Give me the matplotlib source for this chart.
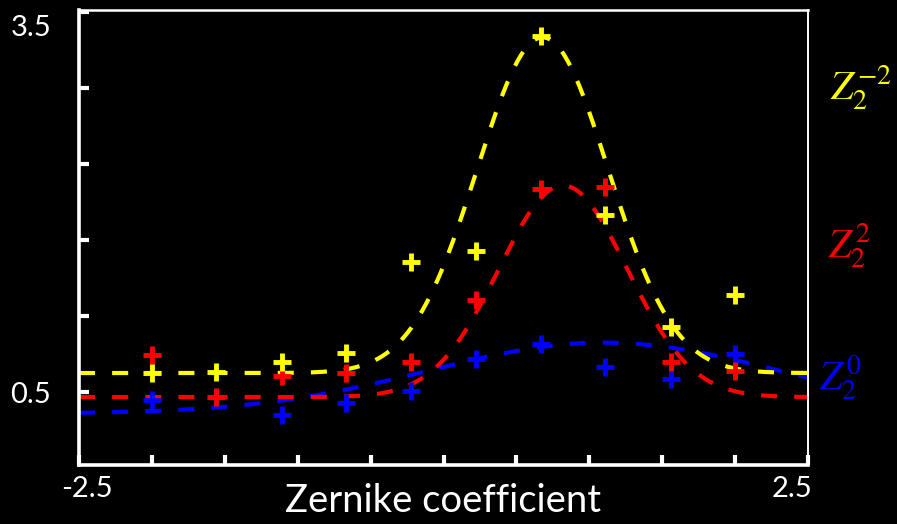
import numpy as np
import matplotlib
matplotlib.use("Agg")
import matplotlib.pyplot as plt
from matplotlib.transforms import ScaledTranslation

# Measured coefficients (x) and response of each aberration mode
coeff = [-2.0, -1.56, -1.11, -0.67, -0.22, 0.22, 0.67, 1.11, 1.56, 2.0]
z2m2 = [0.65, 0.66, 0.74, 0.81, 1.53, 1.61, 3.31, 1.90, 1.01, 1.27]
z2p2 = [0.79, 0.46, 0.63, 0.65, 0.74, 1.23, 2.10, 2.12, 0.74, 0.67]
z20 = [0.44, 0.46, 0.32, 0.41, 0.51, 0.76, 0.88, 0.70, 0.60, 0.80]

# Gaussian fit parameters: (baseline, amplitude, centre, width)
fit_z2m2 = (0.65, 2.65, 0.68, 0.45)
fit_z2p2 = (0.46, 1.67, 0.82, 0.44)
fit_z20 = (0.33, 0.56, 1.10, 1.20)

x_limits = (-2.5, 2.5)
x_ticks = [-2.5, -2.0, -1.5, -1.0, -0.5, 0.0, 0.5, 1.0, 1.5, 2.0, 2.5]
x_ticklabels = ["-2.5", "", "", "", "", "", "", "", "", "", "2.5"]
y_ticks = [0.5, 1.1, 1.7, 2.3, 2.9, 3.5]
y_ticklabels = ["0.5", "", "", "", "", "3.5"]

YELLOW, RED, BLUE = "#FFFF00", "#FF0000", "#0000FF"


def gauss(x, p):
    b, a, mu, s = p
    return b + a * np.exp(-((x - mu) ** 2) / (2 * s ** 2))


W, H, DPI = 897, 524, 100
fig = plt.figure(figsize=(W / DPI, H / DPI), dpi=DPI, facecolor="black")
ax = fig.add_axes([79 / W, 1 - 465 / H, (808 - 79) / W, (465 - 10) / H])
ax.set_facecolor("black")

xs = np.linspace(x_limits[0], x_limits[1], 400)
dash = (0, (3.85, 4.1))
lw = 3.0
for p, c in [(fit_z20, BLUE), (fit_z2p2, RED), (fit_z2m2, YELLOW)]:
    ax.plot(xs, gauss(xs, p), color=c, lw=lw, linestyle=dash, zorder=2)

for vals, c in [(z20, BLUE), (z2p2, RED), (z2m2, YELLOW)]:
    ax.plot(coeff, vals, linestyle="none", marker="+", markersize=12.5,
            markeredgewidth=3.5, color=c, zorder=3)

ax.set_xlim(*x_limits)
ax.set_ylim(-0.076, 3.516)

for side, w in [("left", 2.6), ("bottom", 2.6), ("top", 1.8), ("right", 1.4)]:
    ax.spines[side].set_color("white")
    ax.spines[side].set_linewidth(w)

ax.set_xticks(x_ticks)
ax.set_xticklabels(x_ticklabels)
ax.set_yticks(y_ticks)
ax.set_yticklabels(y_ticklabels)
ax.tick_params(axis="both", direction="in", length=7, width=3, color="white",
               labelcolor="white", labelsize=21)
ax.tick_params(axis="y", pad=20)
ax.tick_params(axis="x", pad=8)
for lab in ax.get_xticklabels() + ax.get_yticklabels():
    lab.set_fontfamily("Lato")

# nudge the end labels to their printed positions
xl = ax.get_xticklabels()
xl[0].set_transform(xl[0].get_transform() + ScaledTranslation(8 / DPI, 0, fig.dpi_scale_trans))
xl[-1].set_transform(xl[-1].get_transform() + ScaledTranslation(-16 / DPI, 0, fig.dpi_scale_trans))
yl = ax.get_yticklabels()
yl[-1].set_transform(yl[-1].get_transform() + ScaledTranslation(0, -13 / DPI, fig.dpi_scale_trans))

fig.text(443 / W, 1 - 501 / H, "Zernike coefficient", color="white", fontsize=27.5,
         fontfamily="Lato", ha="center", va="center")

plt.rcParams["mathtext.fontset"] = "stix"
fig.text(830 / W, 1 - 88 / H, r"$Z_2^{-2}$", color=YELLOW, fontsize=29, va="center", ha="left")
fig.text(828 / W, 1 - 246 / H, r"$Z_2^{2}$", color=RED, fontsize=29, va="center", ha="left")
fig.text(819 / W, 1 - 378 / H, r"$Z_2^{0}$", color=BLUE, fontsize=29, va="center", ha="left")

fig.savefig("out.png", dpi=DPI, facecolor="black")
